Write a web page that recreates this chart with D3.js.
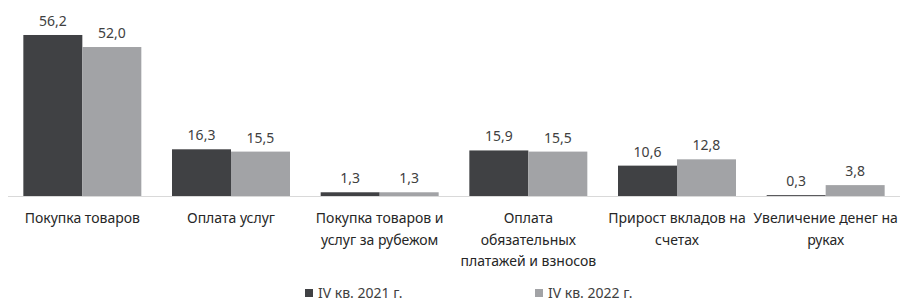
<!DOCTYPE html>
<html><head><meta charset="utf-8">
<script src="https://cdn.jsdelivr.net/npm/d3@7"></script>
<style>body{margin:0;background:#fff}svg{display:block;font-family:"Noto Sans",sans-serif}</style>
</head><body><svg id="c" width="902" height="301"></svg>
<script>
const categories = ["Покупка товаров","Оплата услуг","Покупка товаров и\nуслуг за рубежом","Оплата\nобязательных\nплатажей и взносов","Прирост вкладов на\nсчетах","Увеличение денег на\nруках"];
const seriesNames = ["IV кв. 2021 г.","IV кв. 2022 г."];
const values2021 = [56.2,16.3,1.3,15.9,10.6,0.3];
const values2022 = [52.0,15.5,1.3,15.5,12.8,3.8];
const colors = ["#404144","#a2a3a6"];

const svg = d3.select("#c");
const baseY = 196;
const x0 = d3.scaleBand().domain(categories).range([8,900]).padding(0);
const x1 = d3.scaleBand().domain(seriesNames).range([0,x0.bandwidth()]).paddingInner(0).paddingOuter(0.26);
const y = d3.scaleLinear().domain([0,60]).range([baseY, baseY-60*2.865]);
const series = [values2021, values2022];

svg.append("line").attr("x1",8).attr("x2",900).attr("y1",baseY+0.5).attr("y2",baseY+0.5).attr("stroke","#d9d9d9").attr("stroke-width",1);

series.forEach((vals,si)=>{
  const g = svg.append("g");
  g.selectAll("rect").data(vals).join("rect")
    .attr("x",(d,i)=>x0(categories[i])+x1(seriesNames[si]))
    .attr("width",x1.bandwidth())
    .attr("y",d=>y(d))
    .attr("height",d=>baseY-y(d))
    .attr("fill",colors[si]);
  g.selectAll("text").data(vals).join("text")
    .attr("x",(d,i)=>x0(categories[i])+x1(seriesNames[si])+x1.bandwidth()/2)
    .attr("y",d=>y(d)-9)
    .attr("text-anchor","middle")
    .attr("font-size",14).attr("fill","#404040")
    .text(d=>d.toFixed(1).replace(".",","));
});

const cl = svg.append("g");
categories.forEach(c=>{
  const t = cl.append("text").attr("text-anchor","middle").attr("font-size",14).attr("fill","#262626");
  c.split("\n").forEach((ln,j)=>{
    t.append("tspan").attr("x",x0(c)+x0.bandwidth()/2).attr("y",223+j*21.5).text(ln);
  });
});

const legX = [305,535];
seriesNames.forEach((s,i)=>{
  svg.append("rect").attr("x",legX[i]).attr("y",289).attr("width",8).attr("height",8).attr("fill",colors[i]);
  svg.append("text").attr("x",legX[i]+13).attr("y",298).attr("font-size",14).attr("fill","#404040").text(s);
});
</script></body></html>
